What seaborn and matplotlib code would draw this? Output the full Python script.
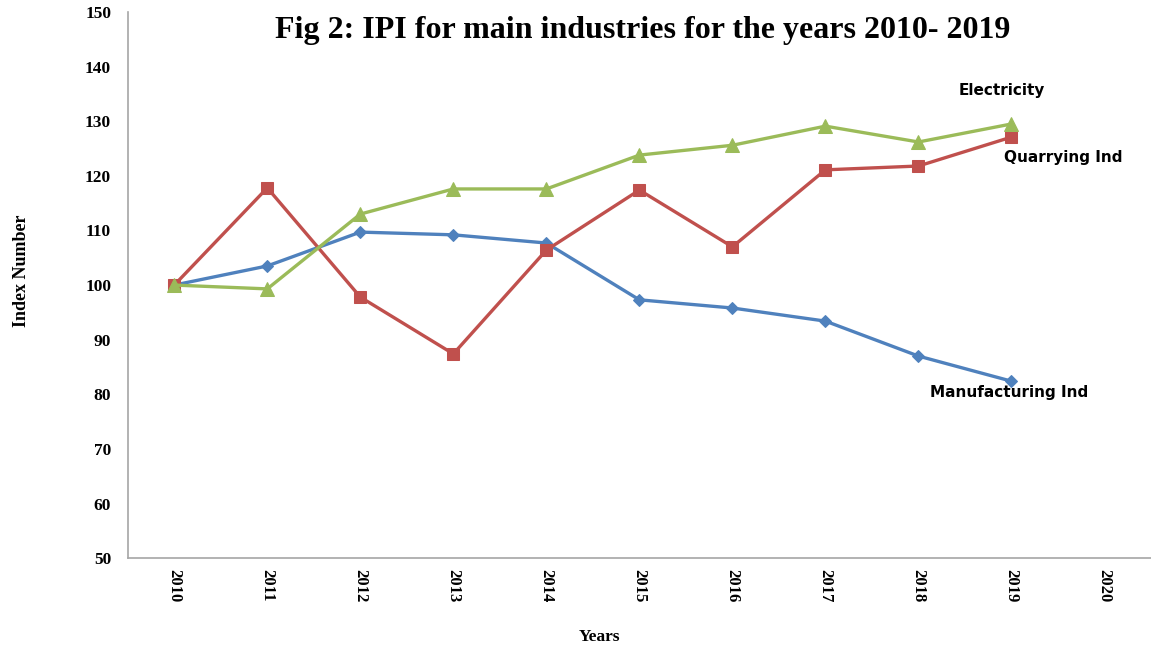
import pandas as pd
import matplotlib
matplotlib.use("Agg")
import matplotlib.pyplot as plt
import seaborn as sns

# Datos
years = [2010, 2011, 2012, 2013, 2014, 2015, 2016, 2017, 2018, 2019]
manufacturing = [100.0, 103.5, 109.7, 109.2, 107.7, 97.3, 95.8, 93.4, 87.0, 82.4]
quarrying = [100.0, 117.8, 97.8, 87.4, 106.4, 117.4, 107.0, 121.1, 121.8, 127.1]
electricity = [100.0, 99.3, 113.0, 117.6, 117.6, 123.8, 125.6, 129.1, 126.2, 129.5]
tick_years = list(range(2010, 2021))

df = pd.DataFrame({
    "Year": years * 3,
    "Index": manufacturing + quarrying + electricity,
    "Series": ["Manufacturing Ind"] * 10 + ["Quarrying Ind"] * 10 + ["Electricity"] * 10,
})

sns.set_style("white")
plt.rcParams["font.family"] = ["Liberation Serif", "DejaVu Serif"]
plt.rcParams["text.color"] = "black"
plt.rcParams["xtick.color"] = "black"
plt.rcParams["ytick.color"] = "black"
plt.rcParams["axes.labelcolor"] = "black"

fig = plt.figure(figsize=(11.51, 6.49), dpi=100)
ax = fig.add_axes([0.111, 0.140, 0.889, 0.8415])

colors = {"Manufacturing Ind": "#4F81BD", "Quarrying Ind": "#C0504D", "Electricity": "#9BBB59"}
markers = {"Manufacturing Ind": "D", "Quarrying Ind": "s", "Electricity": "^"}
sizes = {"Manufacturing Ind": 6, "Quarrying Ind": 9, "Electricity": 10}

for name in ["Manufacturing Ind", "Quarrying Ind", "Electricity"]:
    sub = df[df["Series"] == name]
    sns.lineplot(data=sub, x="Year", y="Index", color=colors[name], marker=markers[name],
                 markersize=sizes[name], markeredgecolor=colors[name], linewidth=2.4,
                 ax=ax, legend=False)

ax.set_xlim(2009.5, 2020.5)
ax.set_ylim(50, 150)
ax.set_yticks(range(50, 151, 10))
ax.set_xticks(tick_years)
ax.set_xticks([y - 0.5 for y in tick_years] + [2020.5], minor=True)
ax.set_xticklabels([str(y) for y in tick_years], rotation=-90, fontsize=12, fontweight="bold")
ax.tick_params(axis="x", which="major", length=0, pad=8)
ax.tick_params(axis="x", which="minor", length=5, color="#a6a6a6", direction="out")
ax.tick_params(axis="y", length=6, color="#a6a6a6", direction="out", labelsize=12.5, pad=6)
for lab in ax.get_yticklabels():
    lab.set_fontweight("bold")

for side in ["top", "right"]:
    ax.spines[side].set_visible(False)
for side in ["left", "bottom"]:
    ax.spines[side].set_color("#a6a6a6")
    ax.spines[side].set_linewidth(1.2)

ax.set_xlabel("")
ax.set_ylabel("Index Number", fontsize=13, fontweight="bold")
ax.yaxis.set_label_coords(-0.096, 0.527)
fig.text(0.521, 0.018, "Years", ha="center", va="center", fontsize=12.5, fontweight="bold")
fig.text(0.558, 0.953, "Fig 2: IPI for main industries for the years 2010- 2019",
         ha="center", va="center", fontsize=23, fontweight="bold")

lab_font = {"family": ["DejaVu Sans"], "fontweight": "bold", "fontsize": 11}
ax.text(2018.9, 135.7, "Electricity", ha="center", va="center", **lab_font)
ax.text(2019.56, 123.3, "Quarrying Ind", ha="center", va="center", **lab_font)
ax.text(2018.97, 80.4, "Manufacturing Ind", ha="center", va="center", **lab_font)

fig.savefig("out.png", dpi=100)
